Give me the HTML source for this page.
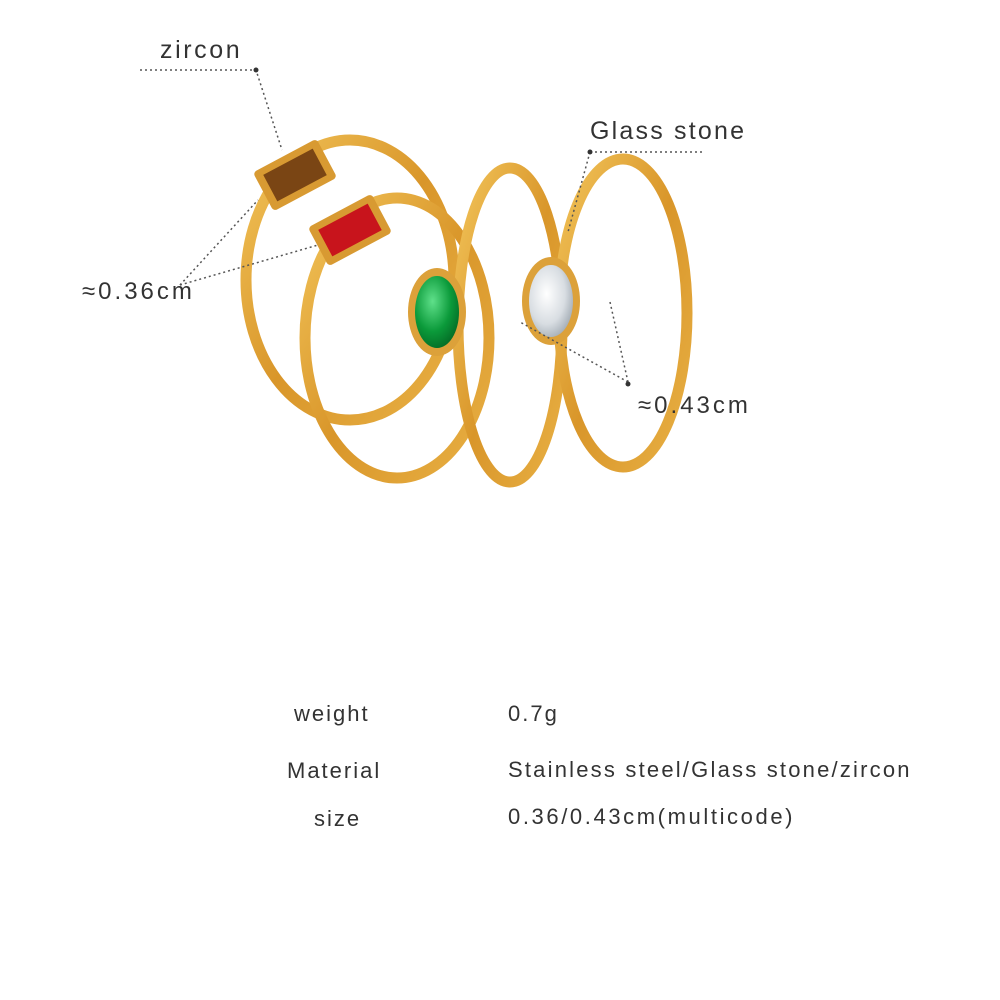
<!DOCTYPE html>
<html><head><meta charset="utf-8"><style>
html,body{margin:0;padding:0;background:#fff;}
body{width:1000px;height:1000px;position:relative;overflow:hidden;font-family:"Liberation Sans","DejaVu Sans",sans-serif;color:#333;}
.t{position:absolute;font-size:22px;white-space:nowrap;letter-spacing:2px}
</style></head><body>
<svg width="1000" height="1000" style="position:absolute;left:0;top:0">
<defs>
<linearGradient id="g" x1="0" y1="0" x2="1" y2="1">
<stop offset="0" stop-color="#f2c45a"/><stop offset="0.5" stop-color="#d9962a"/><stop offset="1" stop-color="#e8b044"/>
</linearGradient>
<radialGradient id="gr" cx="0.4" cy="0.35" r="0.7"><stop offset="0" stop-color="#5fe08a"/><stop offset="0.6" stop-color="#0b9a3a"/><stop offset="1" stop-color="#046b25"/></radialGradient>
<radialGradient id="wh" cx="0.4" cy="0.4" r="0.7"><stop offset="0" stop-color="#fff"/><stop offset="0.6" stop-color="#d8dde2"/><stop offset="1" stop-color="#9aa4ad"/></radialGradient>
</defs>
<g fill="none" stroke="url(#g)" stroke-width="11">
<ellipse cx="350" cy="280" rx="104" ry="140"/>
<ellipse cx="397" cy="338" rx="92" ry="140"/>
<ellipse cx="510" cy="325" rx="52" ry="157"/>
<ellipse cx="623" cy="313" rx="64" ry="154"/>
</g>
<g transform="translate(295,175) rotate(-28)">
<rect x="-36" y="-22" width="72" height="44" rx="4" fill="#d89a32"/>
<rect x="-28" y="-15" width="56" height="30" fill="#7a4514"/>
</g>
<g transform="translate(350,230) rotate(-28)">
<rect x="-36" y="-22" width="72" height="44" rx="4" fill="#d89a32"/>
<rect x="-28" y="-15" width="56" height="30" fill="#c8141c"/>
</g>
<ellipse cx="437" cy="312" rx="29" ry="44" fill="#dca13a"/>
<ellipse cx="437" cy="312" rx="22" ry="36" fill="url(#gr)"/>
<ellipse cx="551" cy="301" rx="29" ry="44" fill="#dca13a"/>
<ellipse cx="551" cy="301" rx="22" ry="36" fill="url(#wh)"/>
<g stroke="#555" stroke-width="1.5" stroke-dasharray="2,3" fill="none">
<polyline points="140,70 256,70 282,150"/>
<polyline points="180,285 258,200"/>
<polyline points="180,285 318,245"/>
<polyline points="590,152 705,152"/>
<polyline points="590,152 568,232"/>
<polyline points="628,382 610,302"/>
<polyline points="628,382 520,322"/>
</g>
<circle cx="256" cy="70" r="2.5" fill="#333"/>
<circle cx="590" cy="152" r="2.5" fill="#333"/>
<circle cx="628" cy="384" r="2.5" fill="#333"/>
</svg>
<div class="t" style="left:160px;top:36px;font-size:25px;letter-spacing:2.6px">zircon</div>
<div class="t" style="left:590px;top:117px;font-size:25px;letter-spacing:2.2px">Glass stone</div>
<div class="t" style="left:82px;top:278px;font-size:24px;letter-spacing:3px">≈0.36cm</div>
<div class="t" style="left:638px;top:392px;font-size:24px;letter-spacing:3px">≈0.43cm</div>
<div class="t" style="left:294px;top:701px">weight</div>
<div class="t" style="left:508px;top:701px">0.7g</div>
<div class="t" style="left:287px;top:758px">Material</div>
<div class="t" style="left:508px;top:757px;letter-spacing:2.2px">Stainless steel/Glass stone/zircon</div>
<div class="t" style="left:314px;top:806px">size</div>
<div class="t" style="left:508px;top:804px;letter-spacing:2.6px">0.36/0.43cm(multicode)</div>
</body></html>
